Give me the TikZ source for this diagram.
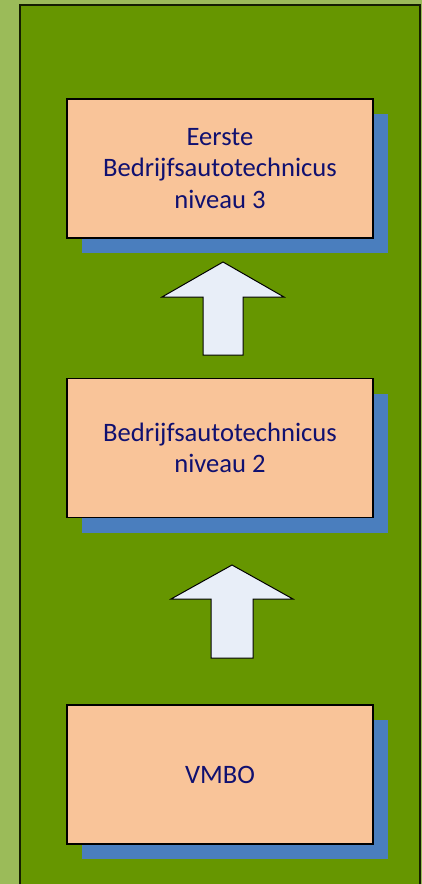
\documentclass[tikz,border=0pt]{standalone}
\usepackage{fontspec}
\setmainfont{Carlito}
\usepackage{tikz}
\usetikzlibrary{shadows, positioning}

\definecolor{lightgreen}{RGB}{155,187,89}
\definecolor{darkgreen}{RGB}{102,150,0}
\definecolor{peach}{RGB}{249,196,153}
\definecolor{shadowblue}{RGB}{74,126,190}
\definecolor{arrowfill}{RGB}{232,238,248}
\definecolor{textnavy}{RGB}{16,16,112}

\begin{document}
\begin{tikzpicture}[
    x=1pt, y=-1pt,
    % GLOBAL CFG
    font=\fontsize{26.6}{31.5}\selectfont,
    % Styles
    level/.style={% For the peach boxes
        rectangle,
        draw=black,
        line width=1.5pt,
        fill=peach,
        text=textnavy,
        align=center,
        minimum width=306pt,
        minimum height=139pt,
        drop shadow={shadow xshift=15pt, shadow yshift=-15pt,
            fill=shadowblue, opacity=1, draw=none},
        },
    blockarrow/.style={% For the up arrows
        draw=black,
        line width=1pt,
        fill=arrowfill,
        line join=miter,
        },
    ]

    % Background
    \useasboundingbox (0,0) rectangle (422,884);
    \fill [lightgreen] (0,0) rectangle (422,884);
    \draw [fill=darkgreen, draw=black!80!darkgreen, line width=2pt] (20,5) rectangle (420,900);

    % Draw the levels named lvl#
    \node [level] (lvl3) at (220,168.5) {Eerste\\Bedrijfsautotechnicus\\niveau 3};
    \node [level] (lvl2) at (220,448) {Bedrijfsautotechnicus\\niveau 2};
    \node [level] (lvl1) at (220,774.5) {VMBO};

    % Arrow tips
    \coordinate (tip2) at (223,262);
    \coordinate (tip1) at (232,565);

    % Draw the up arrows
    \draw [blockarrow] (tip2) -- ++(61,35) -- ++(-41,0) -- ++(0,58) -- ++(-40,0)
        -- ++(0,-58) -- ++(-41,0) -- cycle;
    \draw [blockarrow] (tip1) -- ++(61,34) -- ++(-40,0) -- ++(0,59) -- ++(-42,0)
        -- ++(0,-59) -- ++(-40,0) -- cycle;

\end{tikzpicture}
\end{document}
